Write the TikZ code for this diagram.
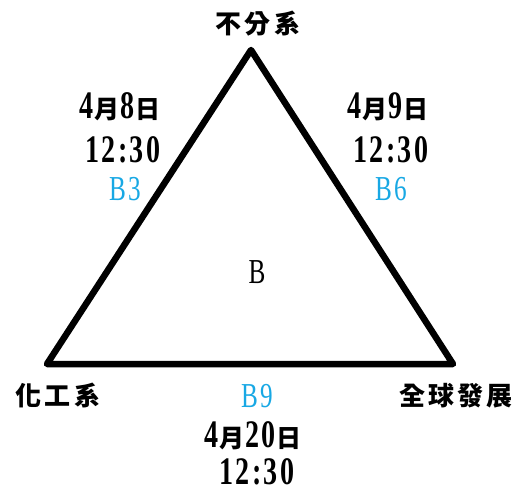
\documentclass[tikz,border=0pt]{standalone}
\usepackage{fontspec}
\setmainfont{Liberation Serif}
\newfontfamily\cjk[LetterSpace=12]{Noto Sans CJK TC}
\newfontfamily\num[FakeStretch=0.72,LetterSpace=6]{Liberation Serif}
\usepackage{tikz}
\definecolor{roomblue}{HTML}{18A8E4}
\newcommand{\zh}[1]{{\cjk\bfseries\fontsize{25}{27}\selectfont\hspace{1pt}#1\hspace{1pt}}}
\newcommand{\nm}[1]{{\num\bfseries\fontsize{39}{40}\selectfont #1}}
\newcommand{\examday}[2]{\nm{#1}\zh{月}\nm{#2}\zh{日}}
\tikzset{
  side/.style={line width=6.5pt, line join=round},
  dept/.style={inner sep=0pt, font=\cjk\bfseries\fontsize{26}{28}\selectfont},
  time/.style={inner sep=0pt},
  room/.style={inner sep=0pt, text=roomblue, font=\num\fontsize{35}{36}\selectfont},
}

\begin{document}
\begin{tikzpicture}[x=1pt,y=-1pt]
          \useasboundingbox (0,0) rectangle (520,492);

          \coordinate (top) at (251,50);
          \coordinate (left) at (47,364);
          \coordinate (right) at (453,364);

          \draw [side] (top) -- (left) -- (right) -- cycle; % Draws the triangle

          \node [dept] (undecl) at (258,24) {不分系};
          \node [dept] (chem) at (58,396) {化工系};
          \node [dept] (glob) at (456,396) {全球發展};

          \node [time] (dayA) at (120,107) {\examday{4}{8}};
          \node [time] (hourA) at (123,150) {\nm{12:30}};
          \node [room] (roomA) at (125,189) {B3};

          \node [time] (dayB) at (388,107) {\examday{4}{9}};
          \node [time] (hourB) at (391,150) {\nm{12:30}};
          \node [room] (roomB) at (391,189) {B6};

          \node [room, text=black] (group) at (257,272) {B};

          \node [room] (roomC) at (257,396) {B9};
          \node [time] (dayC) at (253,436) {\examday{4}{20}};
          \node [time] (hourC) at (257,472) {\nm{12:30}};
        \end{tikzpicture}
\end{document}
